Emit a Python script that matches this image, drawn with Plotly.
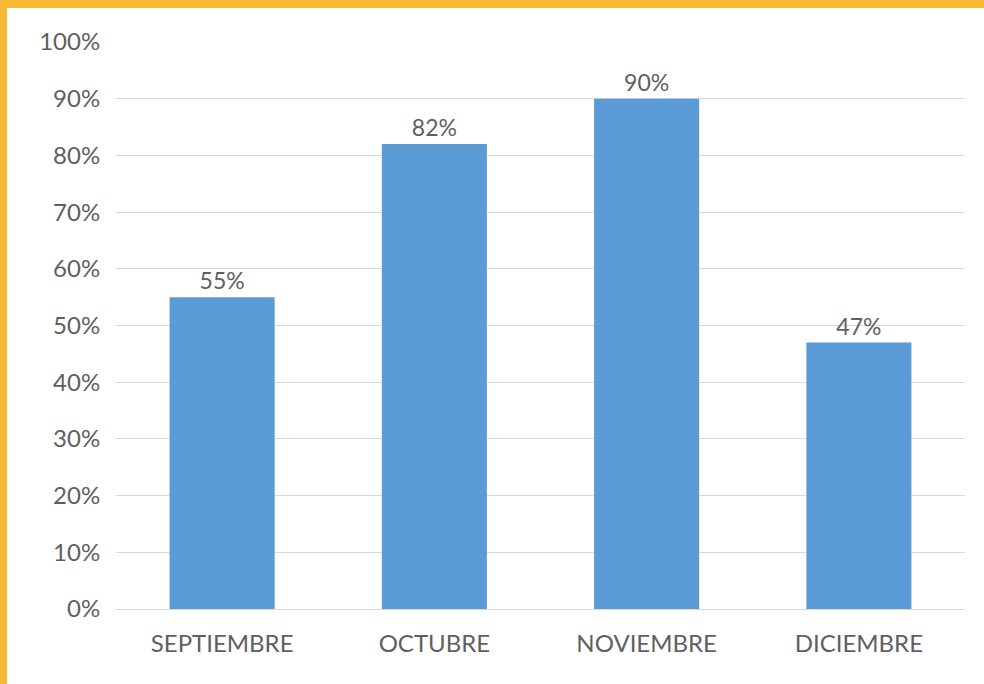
import plotly.graph_objects as go

months = ["SEPTIEMBRE", "OCTUBRE", "NOVIEMBRE", "DICIEMBRE"]
values = [0.55, 0.82, 0.90, 0.47]
tick_vals = [0, 0.1, 0.2, 0.3, 0.4, 0.5, 0.6, 0.7, 0.8, 0.9, 1.0]

W, H = 984, 684
L, R, T, B = 116, 19, 42, 75
pw, ph = W - L - R, H - T - B
TEXT = "#5f5f5f"

fig = go.Figure(go.Bar(
    x=months, y=values,
    marker=dict(color="#5B9BD5", line=dict(width=0)),
    text=[f"{round(v*100)}%" for v in values],
    textposition="outside",
    textfont=dict(size=23, color=TEXT, family="Lato"),
    cliponaxis=False,
))

fig.update_layout(
    width=W, height=H,
    margin=dict(l=L, r=R, t=T, b=B),
    paper_bgcolor="white", plot_bgcolor="white",
    bargap=0.505,
    showlegend=False,
    font=dict(family="Lato", color=TEXT, size=23),
    shapes=[
        dict(type="rect", xref="paper", yref="paper",
             x0=-L / pw - 0.01, x1=(W - L) / pw + 0.01, y0=1 + (T - 8) / ph, y1=1 + T / ph + 0.01,
             fillcolor="#F5B935", line=dict(width=0), layer="above"),
        dict(type="rect", xref="paper", yref="paper",
             x0=-L / pw - 0.01, x1=-(L - 7) / pw, y0=-B / ph - 0.01, y1=1 + T / ph + 0.01,
             fillcolor="#F5B935", line=dict(width=0), layer="above"),
    ],
)
fig.update_yaxes(
    range=[0, 1], tickvals=tick_vals, tickformat=".0%",
    showgrid=True, gridcolor="#D9D9D9", gridwidth=1.3,
    zeroline=False, showline=False,
    ticks="outside", ticklen=10, tickcolor="rgba(0,0,0,0)",
    tickfont=dict(size=24, color=TEXT, family="Lato"),
)
fig.update_xaxes(
    showline=True, linecolor="#D9D9D9", linewidth=1.3,
    ticks="outside", ticklen=13, tickcolor="rgba(0,0,0,0)",
    tickfont=dict(size=24, color=TEXT, family="Lato"),
)

fig.write_html("out.html", config={"displayModeBar": False},
               post_script="document.body.style.margin='0';document.body.style.overflow='hidden';")
